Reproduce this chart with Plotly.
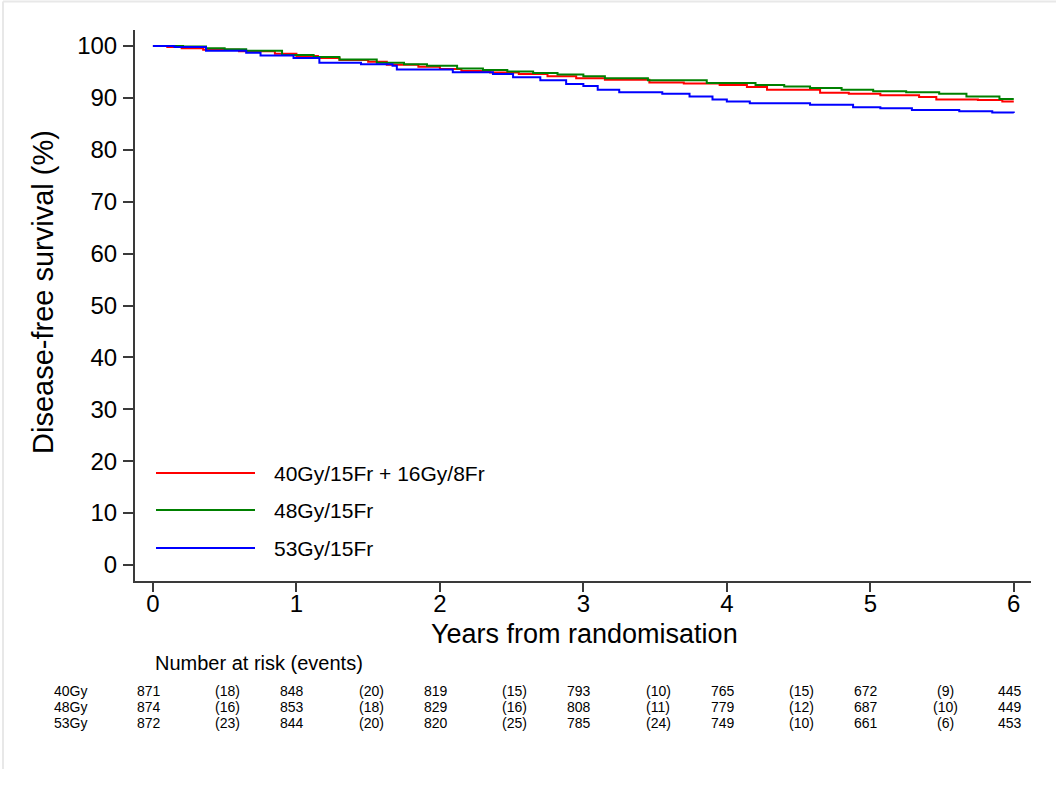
import plotly.graph_objects as go

# ---------------- data ----------------
arm_names = ["40Gy/15Fr + 16Gy/8Fr", "48Gy/15Fr", "53Gy/15Fr"]
arm_short = ["40Gy", "48Gy", "53Gy"]
arm_colors = ["#ff0000", "#008000", "#0000ff"]

t_40 = [0, 0.1, 0.2, 0.35, 0.6, 0.85, 1.0, 1.15, 1.3, 1.5, 1.63, 1.85, 2.0, 2.15, 2.35,
        2.55, 2.75, 2.95, 3.15, 3.46, 3.7, 3.95, 4.14, 4.28, 4.65, 4.85, 5.07, 5.34, 5.46,
        5.75, 5.92, 6.0]
s_40 = [100, 99.8, 99.6, 99.3, 99.0, 98.5, 98.1, 97.7, 97.3, 97.0, 96.4, 96.0, 95.6, 95.2,
        94.9, 94.6, 94.2, 93.8, 93.5, 93.0, 92.8, 92.5, 92.1, 91.6, 91.0, 90.8, 90.5, 90.2,
        89.7, 89.6, 89.3, 89.3]

t_48 = [0, 0.21, 0.37, 0.5, 0.65, 0.9, 1.12, 1.3, 1.56, 1.75, 1.91, 2.12, 2.3, 2.47, 2.65,
        2.82, 3.0, 3.15, 3.45, 3.86, 4.2, 4.4, 4.58, 4.8, 5.02, 5.25, 5.48, 5.67, 5.9, 6.0]
s_48 = [100, 99.9, 99.6, 99.4, 99.1, 98.3, 97.9, 97.4, 96.8, 96.5, 96.2, 95.7, 95.4, 95.1,
        94.8, 94.5, 94.2, 93.8, 93.4, 92.9, 92.5, 92.2, 91.9, 91.6, 91.3, 91.1, 90.8, 90.3,
        89.8, 89.8]

t_53 = [0, 0.15, 0.37, 0.65, 0.75, 0.98, 1.16, 1.45, 1.67, 1.7, 2.09, 2.37, 2.51, 2.7, 2.88,
        3.0, 3.1, 3.25, 3.55, 3.74, 3.9, 4.0, 4.16, 4.58, 4.88, 5.07, 5.29, 5.62, 5.85, 6.0]
s_53 = [100, 99.8, 99.1, 98.7, 98.2, 97.7, 96.8, 96.5, 96.2, 95.5, 94.95, 94.6, 94.0, 93.4,
        92.7, 92.3, 91.6, 91.1, 90.8, 90.3, 89.7, 89.3, 89.0, 88.7, 88.2, 88.0, 87.7, 87.45,
        87.2, 87.1]

risk_times = [0, 1, 2, 3, 4, 5, 6]
event_times = [0.5, 1.5, 2.5, 3.5, 4.5, 5.5]
at_risk_40 = [871, 848, 819, 793, 765, 672, 445]
at_risk_48 = [874, 853, 829, 808, 779, 687, 449]
at_risk_53 = [872, 844, 820, 785, 749, 661, 453]
events_40 = [18, 20, 15, 10, 15, 9]
events_48 = [16, 18, 16, 11, 12, 10]
events_53 = [23, 20, 25, 24, 10, 6]

x_ticks = [0, 1, 2, 3, 4, 5, 6]
y_ticks = [0, 10, 20, 30, 40, 50, 60, 70, 80, 90, 100]

# ---------------- figure ----------------
FONT = "Liberation Sans, Arial, sans-serif"
W, H = 1056, 796
L, R, T, B = 135, 25, 30, 215
PW, PH = W - L - R, H - T - B


def px_x(px):
    return (px - L) / PW


def px_y(py):
    return (H - B - py) / PH


fig = go.Figure()
series = [(t_40, s_40), (t_48, s_48), (t_53, s_53)]
for (t, s), name, col in zip(series, arm_names, arm_colors):
    fig.add_trace(go.Scatter(x=t, y=s, mode="lines", line=dict(color=col, width=2, shape="hv"),
                             name=name, showlegend=False, hoverinfo="skip"))

axis_col = "#3a3a3a"
fig.update_layout(
    width=W, height=H,
    margin=dict(l=L, r=R, t=T, b=B, pad=0),
    paper_bgcolor="white", plot_bgcolor="white",
    font=dict(family=FONT, color="black"),
    xaxis=dict(range=[-0.125, 6.12], tickvals=x_ticks, ticktext=[str(v) for v in x_ticks],
               showgrid=False, zeroline=False, showline=True, linecolor=axis_col, linewidth=2,
               ticks="outside", ticklen=9, tickwidth=2, tickcolor=axis_col,
               ticklabelstandoff=-9,
               tickfont=dict(size=24, family=FONT, color="black")),
    yaxis=dict(range=[-3.1, 103.1], tickvals=y_ticks, ticktext=[str(v) for v in y_ticks],
               showgrid=False, zeroline=False, showline=True, linecolor=axis_col, linewidth=2,
               ticks="outside", ticklen=10, tickwidth=2, tickcolor=axis_col,
               ticklabelstandoff=1,
               tickfont=dict(size=24, family=FONT, color="black")),
)

ann = []
# axis titles
ann.append(dict(text="Years from randomisation", xref="paper", yref="paper",
                x=px_x(584), y=px_y(634), xanchor="center", yanchor="middle",
                showarrow=False, font=dict(size=27, family=FONT)))
ann.append(dict(text="Disease-free survival (%)", xref="paper", yref="paper",
                x=px_x(43), y=px_y(292), xanchor="center", yanchor="middle", textangle=-90,
                showarrow=False, font=dict(size=29, family=FONT)))

# legend (drawn manually)
shapes = []
leg_rows = [473, 510, 548]
for name, col, ry in zip(arm_names, arm_colors, leg_rows):
    shapes.append(dict(type="line", xref="paper", yref="paper", x0=px_x(156), x1=px_x(255),
                       y0=px_y(ry), y1=px_y(ry), line=dict(color=col, width=2)))
    ann.append(dict(text=name, xref="paper", yref="paper", x=px_x(272), y=px_y(ry),
                    xanchor="left", yanchor="middle", showarrow=False,
                    font=dict(size=21, family=FONT)))

# risk table
ann.append(dict(text="Number at risk (events)", xref="paper", yref="paper", x=px_x(153),
                y=px_y(663), xanchor="left", yanchor="middle", showarrow=False,
                font=dict(size=20, family=FONT)))
rows = [(at_risk_40, events_40), (at_risk_48, events_48), (at_risk_53, events_53)]
row_y = [691, 707, 723]
for (nr, ev), lab, ry in zip(rows, arm_short, row_y):
    ann.append(dict(text=lab, xref="paper", yref="paper", x=px_x(52), y=px_y(ry),
                    xanchor="left", yanchor="middle", showarrow=False,
                    font=dict(size=14, family=FONT)))
    for tt, n in zip(risk_times, nr):
        ann.append(dict(text=str(n), xref="x", yref="paper", x=tt, y=px_y(ry), xshift=-4,
                        xanchor="center", yanchor="middle", showarrow=False,
                        font=dict(size=14, family=FONT)))
    for tt, e in zip(event_times, ev):
        ann.append(dict(text="(%d)" % e, xref="x", yref="paper", x=tt, y=px_y(ry), xshift=3,
                        xanchor="center", yanchor="middle", showarrow=False,
                        font=dict(size=14, family=FONT)))

# light frame of the original graph region
shapes.append(dict(type="line", xref="paper", yref="paper", x0=px_x(3), x1=px_x(1056),
                   y0=px_y(1.5), y1=px_y(1.5), line=dict(color="#e8e8e8", width=2)))
shapes.append(dict(type="line", xref="paper", yref="paper", x0=px_x(3), x1=px_x(3),
                   y0=px_y(1.5), y1=px_y(769), line=dict(color="#e8e8e8", width=2)))

fig.update_layout(annotations=ann, shapes=shapes)
fig.write_html("out.html")
